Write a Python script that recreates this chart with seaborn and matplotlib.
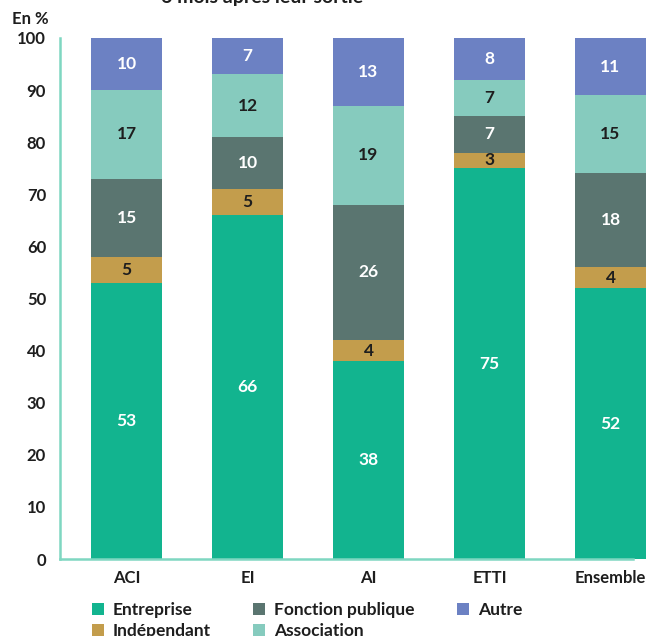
import numpy as np
import pandas as pd
import matplotlib
matplotlib.use("Agg")
import matplotlib.pyplot as plt
import seaborn as sns
from matplotlib.patches import Patch

categories = ["ACI", "EI", "AI", "ETTI", "Ensemble"]
series = ["Entreprise", "Indépendant", "Fonction publique", "Association", "Autre"]
entreprise = [53, 66, 38, 75, 52]
independant = [5, 5, 4, 3, 4]
fonction_publique = [15, 10, 26, 7, 18]
association = [17, 12, 19, 7, 15]
autre = [10, 7, 13, 8, 11]
yticks = [0, 10, 20, 30, 40, 50, 60, 70, 80, 90, 100]

colors = ["#12b48f", "#c39d4c", "#5a7570", "#86cbbe", "#6c81c3"]
text_colors = ["white", "#1e1e1e", "white", "#1e1e1e", "white"]
axis_color = "#7fd7c1"
ink = "#1e1e1e"

sns.set_theme(style="white")
plt.rcParams["font.family"] = ["Lato", "DejaVu Sans"]

values = [entreprise, independant, fonction_publique, association, autre]
df = pd.DataFrame({"cat": categories})
cum = np.zeros(len(categories))
for name, vals in zip(series, values):
    cum = cum + np.array(vals)
    df[name] = cum.copy()

fig = plt.figure(figsize=(6.49, 6.36), dpi=100)
ax = fig.add_axes([60 / 649, 77 / 636, 573 / 649, 521 / 636])

# stacked bars: draw cumulative totals from the top layer down
for name, color in reversed(list(zip(series, colors))):
    sns.barplot(data=df, x="cat", y=name, color=color, width=0.587,
                saturation=1, ax=ax, linewidth=0)

for p in ax.patches:
    p.set_clip_on(False)

# segment value labels
for i in range(len(categories)):
    bottom = 0
    for vals, tc in zip(values, text_colors):
        v = vals[i]
        ax.text(i, bottom + v / 2, str(v), ha="center", va="center",
                color=tc, fontsize=12.5, fontweight="bold")
        bottom += v

ax.set_xlim(-0.55, 4.186)
ax.set_ylim(0, 100)
ax.set_yticks(yticks)
ax.set_yticklabels([str(t) for t in yticks], fontsize=12, fontweight="bold",
                   color=ink)
ax.set_xlabel("")
ax.set_ylabel("")
ax.set_xticks(range(len(categories)))
ax.set_xticklabels(categories, fontsize=12, fontweight="bold", color=ink)
ax.tick_params(axis="x", length=0, pad=8)
ax.tick_params(axis="y", length=5, width=1.5, color=axis_color, pad=5)
for s in ["top", "right"]:
    ax.spines[s].set_visible(False)
for s in ["left", "bottom"]:
    ax.spines[s].set_color(axis_color)
    ax.spines[s].set_linewidth(1.8)

fig.text(12 / 649, 1 - 19 / 636, "En %", fontsize=12, fontweight="bold",
         color=ink, va="center", ha="left")
fig.text(262 / 649, 1 + 2 / 636, "6 mois après leur sortie", fontsize=14,
         fontweight="bold", color=ink, va="center", ha="center")

handles = [Patch(facecolor=c, edgecolor="none") for c in colors]
leg = fig.legend(handles, series, ncol=3, loc="upper left",
                 bbox_to_anchor=(92 / 649, 1 - 602 / 636), frameon=False,
                 prop={"size": 12.5, "weight": "bold"}, handlelength=0.68,
                 handleheight=0.68, handletextpad=0.52, columnspacing=2.45,
                 labelspacing=0.3, borderaxespad=0, borderpad=0)
for t in leg.get_texts():
    t.set_color(ink)

fig.savefig("out.png", dpi=100)
